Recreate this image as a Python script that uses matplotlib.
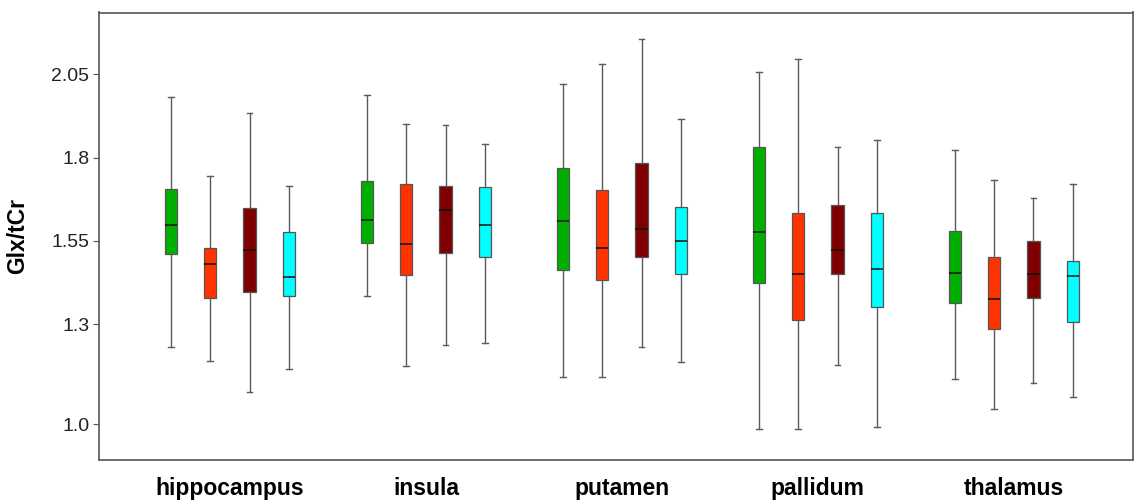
import matplotlib
matplotlib.use("Agg")
import matplotlib.pyplot as plt

regions = ["hippocampus", "insula", "putamen", "pallidum", "thalamus"]
series_names = ["group 1", "group 2", "group 3", "group 4"]
series_colors = ["#00B000", "#FF3300", "#7F0000", "#00FFFF"]

# each entry: [whisker low, Q1, median, Q3, whisker high] per region
group1 = [[1.231, 1.510, 1.599, 1.706, 1.982],
          [1.385, 1.543, 1.614, 1.730, 1.989],
          [1.141, 1.463, 1.611, 1.768, 2.021],
          [0.987, 1.423, 1.578, 1.833, 2.058],
          [1.137, 1.364, 1.454, 1.580, 1.822]]
group2 = [[1.189, 1.378, 1.480, 1.528, 1.745],
          [1.174, 1.448, 1.540, 1.720, 1.901],
          [1.141, 1.433, 1.528, 1.702, 2.081],
          [0.985, 1.314, 1.451, 1.634, 2.096],
          [1.045, 1.286, 1.376, 1.501, 1.732]]
group3 = [[1.098, 1.397, 1.523, 1.650, 1.935],
          [1.237, 1.513, 1.642, 1.714, 1.898],
          [1.231, 1.501, 1.586, 1.784, 2.155],
          [1.178, 1.450, 1.523, 1.659, 1.833],
          [1.124, 1.378, 1.450, 1.550, 1.679]]
group4 = [[1.166, 1.385, 1.441, 1.577, 1.716],
          [1.243, 1.501, 1.599, 1.711, 1.841],
          [1.187, 1.450, 1.550, 1.651, 1.917],
          [0.991, 1.352, 1.465, 1.635, 1.854],
          [1.082, 1.306, 1.445, 1.489, 1.722]]
all_series = [group1, group2, group3, group4]

yticks = [1.0, 1.3, 1.55, 1.8, 2.05]
ytick_labels = ["1.0", "1.3", "1.55", "1.8", "2.05"]
ylabel = "Glx/tCr"

fig = plt.figure(figsize=(11.34, 5.0), dpi=100)
ax = fig.add_axes([0.0873, 0.08, 0.9117, 0.895])

offsets = [-0.3, -0.1, 0.1, 0.3]
for s, (data, color) in enumerate(zip(all_series, series_colors)):
    stats = []
    for vals in data:
        lo, q1, med, q3, hi = vals
        stats.append(dict(whislo=lo, q1=q1, med=med, q3=q3, whishi=hi, fliers=[]))
    positions = [i + offsets[s] for i in range(len(regions))]
    ax.bxp(stats, positions=positions, widths=0.062, patch_artist=True,
           showfliers=False,
           boxprops=dict(facecolor=color, edgecolor="#555555", linewidth=0.9),
           medianprops=dict(color="#111111", linewidth=1.1),
           whiskerprops=dict(color="#5a5a5a", linewidth=1.0),
           capprops=dict(color="#5a5a5a", linewidth=1.0),
           capwidths=0.03)

ax.set_xlim(-0.668, 4.607)
ax.set_ylim(0.893, 2.235)
ax.set_xticks(range(len(regions)))
ax.set_xticklabels(regions, fontsize=16.5, fontweight="bold", family="Liberation Sans")
ax.tick_params(axis="x", length=0, pad=12)
ax.set_yticks(yticks)
ax.set_yticklabels(ytick_labels, fontsize=14, family="Liberation Sans", color="#222222")
ax.tick_params(axis="y", length=4, color="#555555", pad=3)
ax.set_ylabel(ylabel, fontsize=16.5, fontweight="bold", family="Liberation Sans", labelpad=16)
for sp in ax.spines.values():
    sp.set_color("#555555")
    sp.set_linewidth(1.2)

fig.savefig("out.png", dpi=100)
